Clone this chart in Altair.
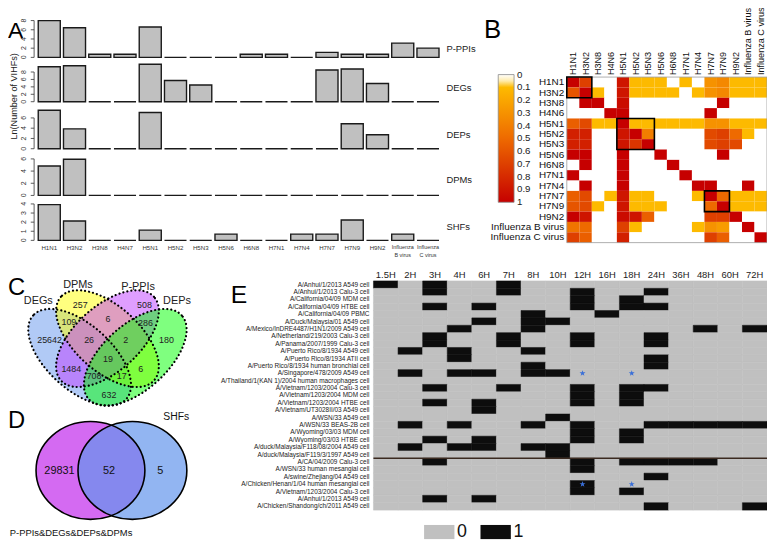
import altair as alt
import pandas as pd

FONT = "Liberation Sans"

# ---------------- Panel A data ----------------
A_CATS = ["H1N1", "H3N2", "H3N8", "H4N7", "H5N1", "H5N2", "H5N3", "H5N6", "H6N8",
          "H7N1", "H7N4", "H7N7", "H7N9", "H9N2", "Influenza B virus", "Influenza C virus"]
A_LABELS = ["H1N1", "H3N2", "H3N8", "H4N7", "H5N1", "H5N2", "H5N3", "H5N6", "H6N8",
            "H7N1", "H7N4", "H7N7", "H7N9", "H9N2", "Influenza\nB virus", "Influenza\nC virus"]
A_LABEL_SIZES = [6.2, 6.2, 6.2, 6.2, 6.2, 6.2, 6.2, 6.2, 6.2, 6.2, 6.2, 6.2, 6.2, 6.2, 5.5, 5.5]
PPIS = [8.0, 6.45, 0.69, 0.69, 6.6, 0, 0, 0, 0.69, 0.69, 0, 1.1, 0.69, 0.69, 3.1, 2.0]
DEGS = [9.4, 9.7, 0, 0, 10.1, 5.7, 4.5, 0, 0, 0, 0, 8.55, 8.8, 4.9, 0, 0]
DEPS = [7.5, 3.87, 0, 0, 7.06, 0, 0, 0, 0, 0, 0, 0, 4.87, 2.73, 0, 0]
DPMS = [4.83, 5.95, 0, 0, 0, 0, 0, 0, 0, 0, 0, 0, 0, 0, 0, 0]
SHFS = [3.93, 2.13, 0, 0, 1.12, 0, 0, 0.69, 0, 0, 0.69, 0.69, 2.24, 0, 0.69, 0]
A_NAMES = ["P-PPIs", "DEGs", "DEPs", "DPMs", "SHFs"]
A_TICKS = [[0, 2, 4, 6, 8], [0, 2, 4, 6, 8], [0, 2, 4, 6], [0, 2, 4, 6], [0, 1, 2, 3, 4]]
A_YMAX = [8.0, 10.1, 7.5, 6.0, 4.0]

# ---------------- Panel B data ----------------
B_CATS = ["H1N1", "H3N2", "H3N8", "H4N6", "H5N1", "H5N2", "H5N3", "H5N6", "H6N8",
          "H7N1", "H7N4", "H7N7", "H7N9", "H9N2", "Influenza B virus", "Influenza C virus"]
B_MATRIX = [
    [1.0, 0.7, 0, 0, 0.9, 0.1, 0.1, 0.1, 0, 0.1, 0, 0.3, 0.35, 0.1, 0.1, 0.1],
    [0.6, 1.0, 0.1, 0, 0.9, 0.1, 0.1, 0.1, 0.1, 0, 0.1, 0.3, 0.35, 0.1, 0.1, 0.1],
    [0, 1.0, 1.0, 0, 0.95, 0, 0, 0, 0, 0, 0, 0, 1.0, 0, 0, 0],
    [0, 0, 0, 1.0, 1.0, 0, 0, 0, 0, 0, 0, 1.0, 0, 0, 0, 0],
    [0.55, 0.65, 0.1, 0.1, 1.0, 0.1, 0.1, 0.1, 0.1, 0.1, 0.1, 0.3, 0.3, 0.1, 0.1, 0.1],
    [0.85, 0.85, 0, 0, 0.9, 1.0, 0.4, 0, 0, 0, 0, 0.65, 0.7, 0.5, 0.1, 0],
    [0.85, 0.85, 0, 0, 0.9, 0.75, 1.0, 0, 0, 0, 0, 0.65, 0.7, 0.65, 0, 0],
    [1.0, 1.0, 0, 0, 1.0, 0, 0, 1.0, 0, 0, 0, 0, 1.0, 0, 0, 0],
    [0, 1.0, 0, 0, 1.0, 0, 0, 0, 1.0, 0, 0, 0, 0, 0, 0, 0],
    [1.0, 0, 0, 0, 1.0, 0, 0, 0, 0, 1.0, 0, 0, 0, 0, 0, 0],
    [0, 1.0, 0, 0, 1.0, 0, 0, 0, 0, 0, 1.0, 1.0, 0, 0, 1.0, 0],
    [0.55, 0.65, 0, 0.1, 0.9, 0.1, 0.1, 0, 0, 0, 0.1, 1.0, 0.5, 0.1, 0.1, 0.1],
    [0.6, 0.65, 0.1, 0, 0.9, 0.1, 0.1, 0.1, 0, 0, 0, 0.5, 1.0, 0.1, 0.1, 0.1],
    [1.0, 0.9, 0, 0, 0.95, 0.9, 0.55, 0, 0, 0, 0, 0.7, 0.7, 1.0, 0, 0],
    [0.45, 0.5, 0, 0, 0.7, 0.1, 0, 0, 0, 0, 0.1, 0.3, 0.25, 0, 1.0, 0],
    [0.7, 0.55, 0, 0, 0.85, 0, 0, 0, 0, 0, 0, 0.7, 0.55, 0, 0, 1.0],
]
# boxed blocks: first category, category after the block
B_BOXES = [("H1N1", "H3N8"), ("H5N1", "H5N6"), ("H7N7", "H9N2")]
# legend label positions (ends nudged inwards so every label stays centred on its tick)
B_LEGEND_VALUES = [0.005, 0.1, 0.2, 0.3, 0.4, 0.5, 0.6, 0.7, 0.8, 0.9, 0.995]

# ---------------- Panel C data ----------------
C_SETS = ["DEGs", "DPMs", "P-PPIs", "DEPs"]
C_COUNTS = [257, 508, 109, 6, 286, 25642, 26, 2, 180, 19, 1484, 708, 17, 6, 632]
# layout (unit square of the diagram)
C_COUNT_U = [0.353, 0.700, 0.292, 0.503, 0.705, 0.188, 0.401, 0.599, 0.818, 0.503, 0.305, 0.428, 0.577, 0.679, 0.508]
C_COUNT_V = [0.781, 0.781, 0.678, 0.695, 0.672, 0.574, 0.574, 0.574, 0.574, 0.466, 0.408, 0.368, 0.368, 0.408, 0.260]
C_SET_U = [0.127, 0.341, 0.665, 0.875]
C_SET_V = [0.800, 0.893, 0.885, 0.799]
C_ELL_U = [0.35, 0.50, 0.50, 0.65]
C_ELL_V = [0.476, 0.584, 0.584, 0.476]
C_ELL_ANGLE = [42, 42, 138, 138]
C_COLORS = ["#6495ed", "#ffff00", "#bf3eff", "#00ff00"]

# ---------------- Panel D data ----------------
D_SETS = ["P-PPIs&DEGs&DEPs&DPMs", "SHFs"]
D_COUNTS = [29831, 52, 5]
D_COUNT_U = [0.158, 0.487, 0.829]
D_CIRCLE_U = [0.364, 0.643]
D_COLORS = ["#d46af2", "#6495ed"]
D_OPACITY = [1.0, 0.7]

# ---------------- Panel E data ----------------
E_TIMES = ["1.5H", "2H", "3H", "4H", "6H", "7H", "8H", "10H", "12H", "16H", "18H", "24H",
           "36H", "48H", "60H", "72H"]
E_STRAINS = [
    "A/Anhui/1/2013  A549 cell",
    "A/Anhui/1/2013  Calu-3 cell",
    "A/California/04/09  MDM cell",
    "A/California/04/09  HTBE cell",
    "A/California/04/09  PBMC",
    "A/Duck/Malaysia/01  A549 cell",
    "A/Mexico/InDRE4487/H1N1/2009  A549 cell",
    "A/Netherland/219/2003  Calu-3 cell",
    "A/Panama/2007/1999  Calu-3 cell",
    "A/Puerto Rico/8/1934  A549 cell",
    "A/Puerto Rico/8/1934  ATII cell",
    "A/Puerto Rico/8/1934  human bronchial cell",
    "A/Singapore/478/2009  A549 cell",
    "A/Thailand/1(KAN 1)/2004  human macrophages cell",
    "A/Vietnam/1203/2004  Calu-3 cell",
    "A/Vietnam/1203/2004  MDM cell",
    "A/Vietnam/1203/2004  HTBE cell",
    "A/Vietnam/UT3028II/03  A549 cell",
    "A/WSN/33  A549 cell",
    "A/WSN/33  BEAS-2B cell",
    "A/Wyoming/03/03  MDM cell",
    "A/Wyoming/03/03  HTBE cell",
    "A/duck/Malaysia/F118/08/2004  A549 cell",
    "A/duck/Malaysia/F119/3/1997  A549 cell",
    "A/CA/04/2009  Calu-3 cell",
    "A/WSN/33  human mesangial cell",
    "A/swine/Zhejiang/04  A549 cell",
    "A/Chicken/Henan/1/04  human mesangial cell",
    "A/Vietnam/1203/2004  Calu-3 cell",
    "A/Anhui/1/2013  A549 cell",
    "A/Chicken/Shandong/ch/2011  A549 cell",
]
E_ACTIVE = [
    ["1.5H", "3H", "7H"],
    ["3H", "7H", "12H", "24H"],
    ["12H", "18H"],
    ["3H", "6H", "12H", "18H", "24H"],
    ["8H", "16H"],
    ["6H", "8H", "10H"],
    ["4H", "8H", "48H", "72H"],
    ["3H", "7H", "12H", "24H"],
    ["3H", "7H", "12H", "24H"],
    ["2H", "4H", "8H"],
    ["4H", "24H"],
    ["8H", "24H"],
    ["2H", "4H", "6H", "8H", "10H"],
    [],
    ["3H", "7H", "12H", "18H", "24H"],
    ["12H", "18H"],
    ["3H", "6H", "12H", "18H"],
    ["6H"],
    ["10H"],
    ["2H", "4H", "8H", "12H", "24H", "36H", "48H", "60H", "72H"],
    ["12H", "18H"],
    ["3H", "6H", "12H", "18H"],
    ["2H", "4H", "6H", "8H", "10H"],
    ["10H"],
    ["3H", "12H", "18H", "24H", "36H", "48H"],
    ["12H"],
    ["24H"],
    ["12H"],
    ["12H", "18H"],
    ["3H", "6H"],
    ["24H", "72H"],
]
E_STAR_ROWS = [12, 12, 27, 27]
E_STAR_TIMES = ["12H", "18H", "12H", "18H"]
E_SEPARATOR_ROW = [24]

# ---------------- shapes ----------------
ELLIPSE_C = "M-1,0A1,0.52,0,1,0,1,0A1,0.52,0,1,0,-1,0Z"
ELLIPSE_D = "M-1,0A1,0.9,0,1,0,1,0A1,0.9,0,1,0,-1,0Z"
STAR = ("M0,-1L0.235,-0.324L0.951,-0.309L0.38,0.124L0.588,0.809L0,0.4L-0.588,0.809"
        "L-0.38,0.124L-0.951,-0.309L-0.235,-0.324Z")
LEG_RECT = "M-1,-0.466H1V0.466H-1Z"

layers = []


def letter(ch, x, y, size):
    return alt.Chart(pd.DataFrame({"t": [ch]})).mark_text(
        align="left", baseline="alphabetic", fontSize=size, font=FONT, color="black"
    ).encode(x=alt.value(x), y=alt.value(y), text="t:N")


# ---------------- Panel A ----------------
a_series = [PPIS, DEGS, DEPS, DPMS, SHFS]
a_zero = [47.1, 91.9, 139.4, 186.6, 232.0]
a_top = [9.9, 54.0, 100.5, 149.7, 195.2]
a_label_y = [38.5, 78.0, 125.6, 171.0, 219.0]
xs_a = alt.Scale(domain=A_CATS, range=[28.9, 437.2], paddingInner=0.127, paddingOuter=0.065)

for i, name in enumerate(A_NAMES):
    df = pd.DataFrame({"virus": A_CATS, "value": a_series[i], "label": A_LABELS, "fs": A_LABEL_SIZES})
    tdf = pd.DataFrame({"t": A_TICKS[i]})
    ys = alt.Scale(domain=[0, A_YMAX[i]], range=[a_zero[i], a_top[i]], nice=False, zero=False)
    xenc = alt.X("virus:N", scale=xs_a, axis=None, sort=A_CATS)
    bars = alt.Chart(df).mark_bar(fill="#c0c0c0", stroke="#1a1a1a", strokeWidth=1.4).encode(
        x=xenc, y=alt.Y("value:Q", scale=ys, axis=None)
    )
    aline = alt.Chart(tdf).mark_rule(color="#333", strokeWidth=0.8).encode(
        x=alt.value(26.4), y=alt.Y("min(t):Q", scale=ys, axis=None), y2="max(t):Q"
    )
    aticks = alt.Chart(tdf).mark_rule(color="#333", strokeWidth=0.8).encode(
        x=alt.value(23.0), x2=alt.value(26.4), y=alt.Y("t:Q", scale=ys, axis=None)
    )
    alabels = alt.Chart(tdf).mark_text(
        angle=270, fontSize=7, font=FONT, color="#333", align="center", baseline="middle"
    ).encode(x=alt.value(16.0), y=alt.Y("t:Q", scale=ys, axis=None), text="t:Q")
    rlabel = alt.Chart(pd.DataFrame({"n": [name]})).mark_text(
        align="left", baseline="middle", fontSize=9.5, font=FONT, color="#222"
    ).encode(x=alt.value(443), y=alt.value(a_label_y[i]), text="n:N")
    parts = [bars, aline, aticks, alabels, rlabel]
    if i == len(A_NAMES) - 1:
        cats = alt.Chart(df).mark_text(
            baseline="top", font=FONT, color="#333", lineBreak="\n", lineHeight=8.3
        ).encode(x=xenc, y=alt.value(236.5), text="label:N", size=alt.Size("fs:Q", scale=None))
        parts.append(cats)
    layers.append(alt.layer(*parts))

layers.append(alt.Chart(pd.DataFrame({"t": ["Ln(Number of VIHFs)"]})).mark_text(
    angle=270, fontSize=9.2, font=FONT, color="#222", align="center", baseline="middle"
).encode(x=alt.value(5.8), y=alt.value(86.5), text="t:N"))
layers.append(letter("A", 0, 28, 23))

# ---------------- Panel B ----------------
hrows = []
for r, row in enumerate(B_MATRIX):
    for c, v in enumerate(row):
        hrows.append({"r": B_CATS[r], "c": B_CATS[c], "v": v})
hdf = pd.DataFrame(hrows)
xs_b = alt.Scale(domain=B_CATS, range=[564.7, 767], paddingInner=0, paddingOuter=0)
ys_b = alt.Scale(domain=B_CATS, range=[67, 234.3], paddingInner=0, paddingOuter=0)
# colour is keyed on the negated value so that the vertical legend runs 0 (top) -> 1 (bottom)
heat_scale = alt.Scale(domain=[-1, -0.5, -0.06, -0.045, 0],
                       range=["#c60000", "#ee6a00", "#ffc200", "#ffffff", "#ffffff"],
                       interpolate="rgb")
heat = alt.Chart(hdf).transform_calculate(nv="-datum.v").mark_rect().encode(
    x=alt.X("c:N", scale=xs_b, axis=None),
    y=alt.Y("r:N", scale=ys_b, axis=None),
    color=alt.Color("nv:Q", scale=heat_scale, legend=alt.Legend(
        orient="none", legendX=495.4, legendY=64.5, direction="vertical",
        gradientLength=129, gradientThickness=16, title=None,
        values=[-v for v in B_LEGEND_VALUES],
        labelExpr="format(round(abs(datum.value) * 10) / 10, '~g')", labelBaseline="middle",
        labelFontSize=9.8, labelFont=FONT, labelColor="#222", gradientStrokeColor="#888",
        gradientStrokeWidth=0.8, labelOverlap=False, labelOffset=3)),
)
frame = alt.Chart(pd.DataFrame({"a": [0]})).mark_rect(
    fillOpacity=0, stroke="#999", strokeWidth=0.8
).encode(x=alt.value(564.7), x2=alt.value(767), y=alt.value(67), y2=alt.value(234.3))
bdf = pd.DataFrame({"a": [b[0] for b in B_BOXES], "b": [b[1] for b in B_BOXES]})
boxes = alt.Chart(bdf).mark_rect(fillOpacity=0, stroke="black", strokeWidth=1.6).encode(
    x=alt.X("a:N", scale=xs_b, axis=None, bandPosition=0),
    x2=alt.X2("b:N", bandPosition=0),
    y=alt.Y("a:N", scale=ys_b, axis=None, bandPosition=0),
    y2=alt.Y2("b:N", bandPosition=0),
)
catdf = pd.DataFrame({"k": B_CATS})
brow = alt.Chart(catdf).mark_text(
    align="right", baseline="middle", fontSize=10, font=FONT, color="#111"
).encode(x=alt.value(562), y=alt.Y("k:N", scale=ys_b, axis=None), text="k:N")
bcol = alt.Chart(catdf).mark_text(
    angle=270, align="left", baseline="middle", fontSize=9.2, font=FONT, color="#111"
).encode(x=alt.X("k:N", scale=xs_b, axis=None), y=alt.value(65), text="k:N")
layers.append(alt.layer(heat, frame, boxes, brow, bcol))
layers.append(letter("B", 481, 28, 26))

# ---------------- Panel C ----------------
xs_c = alt.Scale(domain=[0, 1], range=[6.8, 194.2], nice=False, zero=False)
ys_c = alt.Scale(domain=[0, 1], range=[433.3, 258.7], nice=False, zero=False)
edf = pd.DataFrame({"u": C_ELL_U, "v": C_ELL_V, "ang": C_ELL_ANGLE, "col": C_COLORS, "s": C_SETS})
cx = alt.X("u:Q", scale=xs_c, axis=None)
cy = alt.Y("v:Q", scale=ys_c, axis=None)
cfill = alt.Chart(edf).mark_point(
    shape=ELLIPSE_C, filled=True, size=16000, opacity=1, fillOpacity=0.5, strokeWidth=0
).encode(x=cx, y=cy, angle=alt.Angle("ang:Q", scale=None), fill=alt.Fill("col:N", scale=None))
cline = alt.Chart(edf).mark_point(
    shape=ELLIPSE_C, filled=False, size=16000, opacity=1, stroke="black", strokeWidth=2.2,
    strokeDash=[0.1, 4], strokeCap="round"
).encode(x=cx, y=cy, angle=alt.Angle("ang:Q", scale=None))
cnum = alt.Chart(pd.DataFrame({"u": C_COUNT_U, "v": C_COUNT_V, "n": C_COUNTS})).mark_text(
    fontSize=9, font=FONT, color="#222", align="center", baseline="middle"
).encode(x=cx, y=cy, text="n:Q")
cset = alt.Chart(pd.DataFrame({"u": C_SET_U, "v": C_SET_V, "s": C_SETS})).mark_text(
    fontSize=11, font=FONT, color="#222", align="center", baseline="middle"
).encode(x=cx, y=cy, text="s:N")
layers.append(alt.layer(cfill, cline, cnum, cset))
layers.append(letter("C", 0, 287, 24))

# ---------------- Panel D ----------------
xs_d = alt.Scale(domain=[0, 1], range=[28, 180], nice=False, zero=False)
ys_d = alt.Scale(domain=[0, 1], range=[514, 415], nice=False, zero=False)
dx = alt.X("u:Q", scale=xs_d, axis=None)
dy = alt.Y("v:Q", scale=ys_d, axis=None)
ddf = pd.DataFrame({"u": D_CIRCLE_U, "v": [0.5, 0.5], "col": D_COLORS, "op": D_OPACITY})
dfill = alt.Chart(ddf).mark_point(
    shape=ELLIPSE_D, filled=True, size=12100, opacity=1, strokeWidth=0
).encode(x=dx, y=dy, fill=alt.Fill("col:N", scale=None),
         fillOpacity=alt.FillOpacity("op:Q", scale=None))
dline = alt.Chart(ddf).mark_point(
    shape=ELLIPSE_D, filled=False, size=12100, opacity=1, stroke="black", strokeWidth=1.6
).encode(x=dx, y=dy)
dnum = alt.Chart(pd.DataFrame({"u": D_COUNT_U, "v": [0.495, 0.495, 0.495], "n": D_COUNTS})).mark_text(
    fontSize=11, font=FONT, color="#111", align="center", baseline="middle"
).encode(x=dx, y=dy, text="n:Q")
dset = alt.Chart(pd.DataFrame({"u": [0.235, 0.934], "v": [-0.135, 1.04], "s": D_SETS,
                               "fs": [9.5, 10.5]})).mark_text(
    font=FONT, color="#111", align="center", baseline="middle"
).encode(x=dx, y=dy, text="s:N", size=alt.Size("fs:Q", scale=None))
layers.append(alt.layer(dfill, dline, dnum, dset))
layers.append(letter("D", 0, 422, 24))

# ---------------- Panel E ----------------
grows = []
for i, active in enumerate(E_ACTIVE):
    for t in E_TIMES:
        grows.append({"idx": i, "time": t, "v": "1" if t in active else "0"})
gdf = pd.DataFrame(grows)
xs_e = alt.Scale(domain=E_TIMES, range=[369.3, 767], paddingInner=0, paddingOuter=0)
ys_e = alt.Scale(domain=list(range(len(E_STRAINS))), range=[273, 504.6], paddingInner=0, paddingOuter=0)
ex = alt.X("time:N", scale=xs_e, axis=None)
ey = alt.Y("idx:O", scale=ys_e, axis=None)
gcol = alt.Scale(domain=["0", "1"], range=["#c0c0c0", "#0d0d0d"])
grid = alt.Chart(gdf).mark_rect(strokeWidth=0.5).encode(
    x=ex, y=ey,
    color=alt.Color("v:N", scale=gcol, legend=alt.Legend(
        orient="none", legendX=420.3, legendY=511, direction="horizontal", title=None,
        symbolType=LEG_RECT, symbolSize=940, symbolStrokeWidth=0, labelFontSize=18,
        labelFont=FONT, labelColor="#111", labelOffset=2.5, columnPadding=13)),
    stroke=alt.Stroke("v:N", scale=gcol, legend=None),
)
sep = alt.Chart(pd.DataFrame({"idx": E_SEPARATOR_ROW})).mark_rule(color="#3b2a20", strokeWidth=1.5).encode(
    y=alt.Y("idx:O", scale=ys_e, axis=None, bandPosition=0), x=alt.value(369.3), x2=alt.value(767)
)
stars = alt.Chart(pd.DataFrame({"idx": E_STAR_ROWS, "time": E_STAR_TIMES})).mark_point(
    shape=STAR, filled=True, size=40, opacity=1, fill="#3a6fd8", strokeWidth=0
).encode(x=ex, y=ey)
erow = alt.Chart(pd.DataFrame({"idx": list(range(len(E_STRAINS))), "s": E_STRAINS})).mark_text(
    align="right", baseline="middle", fontSize=6.5, font=FONT, color="#222"
).encode(x=alt.value(365.3), y=ey, text="s:N")
ecol = alt.Chart(pd.DataFrame({"time": E_TIMES})).mark_text(
    align="center", baseline="middle", fontSize=9.5, font=FONT, color="#222"
).encode(x=ex, y=alt.value(267), text="time:N")
layers.append(alt.layer(grid, sep, stars, erow, ecol))
layers.append(letter("E", 225, 295, 25))

chart = alt.layer(*layers).resolve_scale(
    x="independent", y="independent", color="independent", stroke="independent"
).properties(
    width=767, height=532, padding=0, autosize=alt.AutoSizeParams(type="none")
).configure_view(strokeWidth=0).configure_text(font=FONT)

chart.save("out.html", embed_options={"renderer": "svg", "actions": False})
